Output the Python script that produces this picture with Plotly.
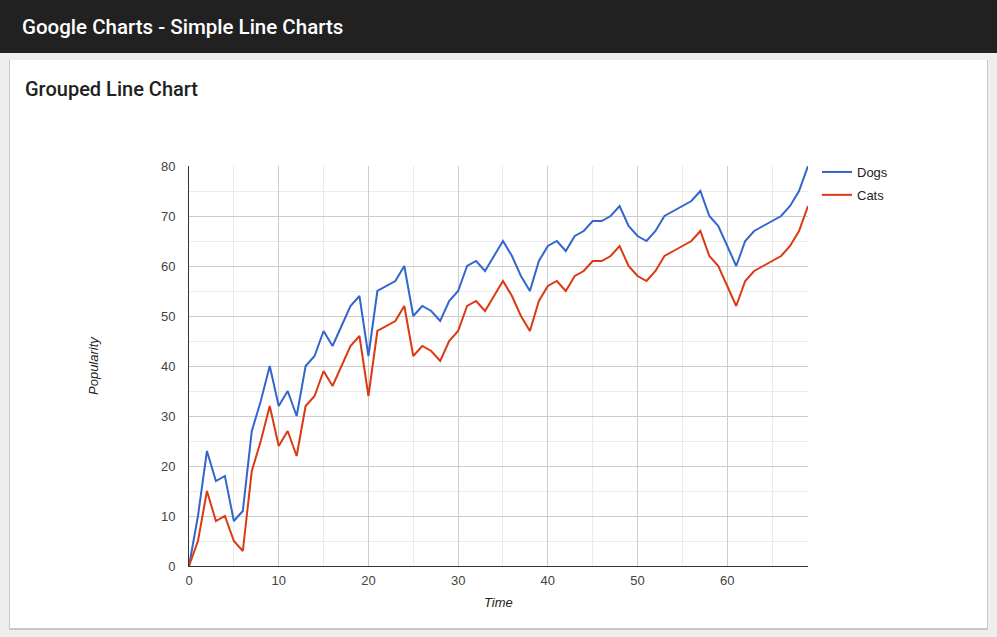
import plotly.graph_objects as go

# data: time, dog and cat popularity
time = list(range(70))
dogs = [0, 10, 23, 17, 18, 9, 11, 27, 33, 40, 32, 35, 30, 40, 42, 47, 44, 48, 52, 54,
        42, 55, 56, 57, 60, 50, 52, 51, 49, 53, 55, 60, 61, 59, 62, 65, 62, 58, 55, 61,
        64, 65, 63, 66, 67, 69, 69, 70, 72, 68, 66, 65, 67, 70, 71, 72, 73, 75, 70, 68,
        64, 60, 65, 67, 68, 69, 70, 72, 75, 80]
cats = [0, 5, 15, 9, 10, 5, 3, 19, 25, 32, 24, 27, 22, 32, 34, 39, 36, 40, 44, 46,
        34, 47, 48, 49, 52, 42, 44, 43, 41, 45, 47, 52, 53, 51, 54, 57, 54, 50, 47, 53,
        56, 57, 55, 58, 59, 61, 61, 62, 64, 60, 58, 57, 59, 62, 63, 64, 65, 67, 62, 60,
        56, 52, 57, 59, 60, 61, 62, 64, 67, 72]

W, H = 997, 637


def px(x):
    return x / W


def py(y):
    return (H - y) / H


fig = go.Figure()
fig.add_trace(go.Scatter(x=time, y=dogs, name="Dogs", mode="lines", legendgroup="dogs",
                         line=dict(color="#3366cc", width=2)))
fig.add_trace(go.Scatter(x=time, y=cats, name="Cats", mode="lines", legendgroup="cats",
                         line=dict(color="#dc3912", width=2)))

tickfont = dict(family="Arial, Liberation Sans", size=13, color="#444444")
titlefont = dict(family="Arial, Liberation Sans", size=13, color="#222222", style="italic")

fig.update_layout(
    width=W, height=H,
    margin=dict(l=0, r=0, t=0, b=0),
    paper_bgcolor="#eeeeee",
    plot_bgcolor="rgba(0,0,0,0)",
    showlegend=True,
    legend=dict(x=px(817), y=py(157), xanchor="left", yanchor="top",
                bgcolor="rgba(0,0,0,0)", font=dict(family="Arial, Liberation Sans", size=13, color="#222222"),
                itemwidth=30, tracegroupgap=3),
    xaxis=dict(domain=[px(189), px(808)], range=[0, 69], tickvals=[0, 10, 20, 30, 40, 50, 60],
               automargin=False,
               showgrid=True, gridcolor="#cccccc", gridwidth=1,
               minor=dict(dtick=5, showgrid=True, gridcolor="#ebebeb"),
               zeroline=False, showline=True, linecolor="#333333", linewidth=1,
               ticks="", tickfont=tickfont, ticklabelstandoff=2),
    yaxis=dict(domain=[py(566), py(166)], range=[0, 80], dtick=10,
               automargin=False,
               showgrid=True, gridcolor="#cccccc", gridwidth=1,
               minor=dict(dtick=5, showgrid=True, gridcolor="#ebebeb"),
               zeroline=False, showline=True, linecolor="#333333", linewidth=1,
               ticks="", tickfont=tickfont, ticklabelstandoff=10),
    shapes=[
        # header bar
        dict(type="rect", xref="paper", yref="paper", x0=0, x1=1, y0=py(53), y1=1,
             fillcolor="#212121", line=dict(width=0), layer="below"),
        # card shadow
        dict(type="rect", xref="paper", yref="paper", x0=px(9), x1=px(988), y0=py(630), y1=py(60),
             fillcolor="#c8c8c8", line=dict(width=0), layer="below"),
        # card
        dict(type="rect", xref="paper", yref="paper", x0=px(10), x1=px(987), y0=py(628), y1=py(60),
             fillcolor="#ffffff", line=dict(width=0), layer="below"),
    ],
    annotations=[
        dict(text="Google Charts - Simple Line Charts", xref="paper", yref="paper",
             x=px(20), y=py(27), xanchor="left", yanchor="middle", showarrow=False,
             font=dict(family="Roboto", size=20.5, weight=500, color="#ffffff")),
        dict(text="Grouped Line Chart", xref="paper", yref="paper",
             x=px(23), y=py(89), xanchor="left", yanchor="middle", showarrow=False,
             font=dict(family="Roboto", size=20, weight=500, color="#212121")),
        # axis titles
        dict(text="Time", xref="paper", yref="paper", x=px(499), y=py(602),
             xanchor="center", yanchor="middle", showarrow=False, font=titlefont),
        dict(text="Popularity", xref="paper", yref="paper", x=px(93), y=py(366),
             xanchor="center", yanchor="middle", showarrow=False, textangle=-90, font=titlefont),
    ],
)

pin = ("document.documentElement.style.margin='0';"
       "document.body.style.margin='0';"
       "document.body.style.overflow='hidden';")

fig.write_html("out.html", config={"displayModeBar": False}, post_script=pin)
